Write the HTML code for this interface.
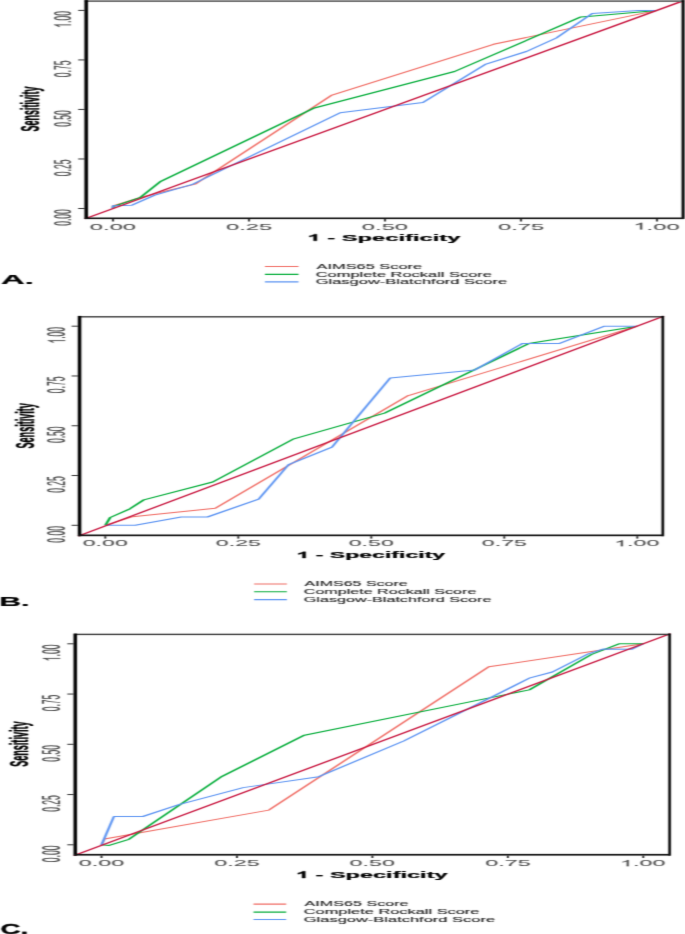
<!DOCTYPE html>
<html><head><meta charset="utf-8"><style>
html,body{margin:0;padding:0;background:#fff;}
svg{display:block;}
text{font-family:"Liberation Sans",sans-serif;font-size:100px;}
</style></head><body>
<svg width="685" height="934" viewBox="0 0 685 934">
<defs><filter id="bl" x="0" y="0" width="685" height="934" filterUnits="userSpaceOnUse" color-interpolation-filters="sRGB"><feConvolveMatrix order="5 3" kernelMatrix="0.0024 0.0176 0.0400 0.0176 0.0024 0.0252 0.1848 0.4200 0.1848 0.0252 0.0024 0.0176 0.0400 0.0176 0.0024" divisor="1" edgeMode="none"/></filter></defs>
<rect width="685" height="934" fill="#fff"/>
<g filter="url(#bl)">
<polyline transform="scale(1,0.4000)" points="113,521.25 113,515 139.9,494.25 160,481.25 195.1,460.5 332,237.75 493.5,110.75 657,26" fill="none" stroke="#F06C64" stroke-width="2.4" stroke-linejoin="round" stroke-linecap="butt"/>
<polyline transform="scale(1,0.4000)" points="113,521.25 113,516.5 139.9,494.25 160.8,453.25 313.4,270.75 454.5,178.75 580.3,42.75 587.7,41.25 657,26" fill="none" stroke="#05AD3A" stroke-width="2.6" stroke-linejoin="round" stroke-linecap="butt"/>
<polyline transform="scale(1,0.4000)" points="113,521.25 113,514.25 132,513 154.8,488 191.6,461.75 340.2,281.75 422.9,256.5 486,160.25 526.4,128.75 556.3,95 592.2,33.75 638.6,26.25 657,26" fill="none" stroke="#5B93F2" stroke-width="2.5" stroke-linejoin="round" stroke-linecap="butt"/>
<polyline transform="scale(1,0.4000)" points="84.7,547.25 684,1.25" fill="none" stroke="#C8163F" stroke-width="2.7" stroke-linejoin="round" stroke-linecap="butt"/>
<rect x="84.7" y="0" width="599.3" height="1" fill="#8e8e8e"/>
<rect x="84.7" y="1" width="599.3" height="1" fill="#6a6a6a"/>
<rect x="681.6" y="0" width="3" height="218.9" fill="#000"/>
<rect x="84.4" y="0" width="3.6" height="218.9" fill="#000"/>
<rect x="84.7" y="217.5" width="599.3" height="1.6" fill="#111"/>
<line x1="78.2" y1="208.5" x2="84.4" y2="208.5" stroke="#333333" stroke-width="1"/>
<line x1="113" y1="219.1" x2="113" y2="221.5" stroke="#1a1a1a" stroke-width="1.8"/>
<text transform="translate(89.8,229.5) scale(0.2380,0.0986)" font-weight="normal" fill="#4D4D4D" stroke="#4D4D4D" stroke-width="0.15" vector-effect="non-scaling-stroke">0.00</text>
<text transform="translate(71,225.83) rotate(-90) scale(0.0855,0.2471)" font-weight="normal" fill="#4D4D4D" stroke="#4D4D4D" stroke-width="0.15" vector-effect="non-scaling-stroke">0.00</text>
<line x1="78.2" y1="158.97" x2="84.4" y2="158.97" stroke="#333333" stroke-width="1"/>
<line x1="249" y1="219.1" x2="249" y2="221.5" stroke="#1a1a1a" stroke-width="1.8"/>
<text transform="translate(225.91,229.5) scale(0.2380,0.0986)" font-weight="normal" fill="#4D4D4D" stroke="#4D4D4D" stroke-width="0.15" vector-effect="non-scaling-stroke">0.25</text>
<text transform="translate(71,176.22) rotate(-90) scale(0.0855,0.2471)" font-weight="normal" fill="#4D4D4D" stroke="#4D4D4D" stroke-width="0.15" vector-effect="non-scaling-stroke">0.25</text>
<line x1="78.2" y1="109.45" x2="84.4" y2="109.45" stroke="#333333" stroke-width="1"/>
<line x1="385" y1="219.1" x2="385" y2="221.5" stroke="#1a1a1a" stroke-width="1.8"/>
<text transform="translate(361.8,229.5) scale(0.2380,0.0986)" font-weight="normal" fill="#4D4D4D" stroke="#4D4D4D" stroke-width="0.15" vector-effect="non-scaling-stroke">0.50</text>
<text transform="translate(71,126.78) rotate(-90) scale(0.0855,0.2471)" font-weight="normal" fill="#4D4D4D" stroke="#4D4D4D" stroke-width="0.15" vector-effect="non-scaling-stroke">0.50</text>
<line x1="78.2" y1="59.93" x2="84.4" y2="59.93" stroke="#333333" stroke-width="1"/>
<line x1="521" y1="219.1" x2="521" y2="221.5" stroke="#1a1a1a" stroke-width="1.8"/>
<text transform="translate(497.91,229.5) scale(0.2380,0.0986)" font-weight="normal" fill="#4D4D4D" stroke="#4D4D4D" stroke-width="0.15" vector-effect="non-scaling-stroke">0.75</text>
<text transform="translate(71,77.17) rotate(-90) scale(0.0855,0.2471)" font-weight="normal" fill="#4D4D4D" stroke="#4D4D4D" stroke-width="0.15" vector-effect="non-scaling-stroke">0.75</text>
<line x1="78.2" y1="10.4" x2="84.4" y2="10.4" stroke="#333333" stroke-width="1"/>
<line x1="657" y1="219.1" x2="657" y2="221.5" stroke="#1a1a1a" stroke-width="1.8"/>
<g transform="translate(633.32,229.5) scale(0.2380,0.0986)"><path d="M37.26,0.00L28.47,0.00L28.47,-53.61Q25.29,-50.71 20.12,-47.81Q14.94,-44.92 10.79,-43.47L10.79,-51.60Q18.16,-54.92 23.68,-59.64Q29.20,-64.36 31.49,-68.80L37.26,-68.80Z" fill="#4D4D4D" stroke="#4D4D4D" stroke-width="0.15" vector-effect="non-scaling-stroke"/><text x="55.62" font-weight="normal" fill="#4D4D4D" stroke="#4D4D4D" stroke-width="0.15" vector-effect="non-scaling-stroke" xml:space="preserve">.00</text></g>
<g transform="translate(71,27.73) rotate(-90) scale(0.0855,0.2471)"><path d="M37.26,0.00L28.47,0.00L28.47,-53.61Q25.29,-50.71 20.12,-47.81Q14.94,-44.92 10.79,-43.47L10.79,-51.60Q18.16,-54.92 23.68,-59.64Q29.20,-64.36 31.49,-68.80L37.26,-68.80Z" fill="#4D4D4D" stroke="#4D4D4D" stroke-width="0.15" vector-effect="non-scaling-stroke"/><text x="55.62" font-weight="normal" fill="#4D4D4D" stroke="#4D4D4D" stroke-width="0.15" vector-effect="non-scaling-stroke" xml:space="preserve">.00</text></g>
<g transform="translate(307.38,240.8) scale(0.2375,0.0957)"><path d="M39.94,0.00L26.22,0.00L26.22,-49.70Q18.70,-42.94 8.50,-39.70L8.50,-51.67Q13.87,-53.36 20.17,-58.05Q26.46,-62.74 28.81,-68.80L39.94,-68.80Z" fill="#000" stroke="#000" stroke-width="0.4" vector-effect="non-scaling-stroke"/><text x="55.62" font-weight="bold" fill="#000" stroke="#000" stroke-width="0.4" vector-effect="non-scaling-stroke" xml:space="preserve"> - Specificity</text></g>
<text transform="translate(38.8,131.47) rotate(-90) scale(0.0897,0.2557)" font-weight="bold" fill="#000" stroke="#000" stroke-width="0.4" vector-effect="non-scaling-stroke">Sensitivity</text>
<text transform="translate(1.02,284.2) scale(0.3278,0.1333)" font-weight="bold" fill="#000" stroke="#000" stroke-width="0.4" vector-effect="non-scaling-stroke">A.</text>
<line x1="264.9" y1="266.5" x2="298.5" y2="266.5" stroke="#F06C64" stroke-width="1.2"/>
<text transform="translate(316.5,268.7) scale(0.1639,0.0710)" font-weight="normal" fill="#1e1e1e" stroke="#1e1e1e" stroke-width="0.2" vector-effect="non-scaling-stroke">AIMS65 Score</text>
<line x1="264.9" y1="274.35" x2="298.5" y2="274.35" stroke="#05AD3A" stroke-width="1.2"/>
<text transform="translate(315.68,276.6) scale(0.1646,0.0710)" font-weight="normal" fill="#1e1e1e" stroke="#1e1e1e" stroke-width="0.2" vector-effect="non-scaling-stroke">Complete Rockall Score</text>
<line x1="264.9" y1="281.9" x2="298.5" y2="281.9" stroke="#5B93F2" stroke-width="1.2"/>
<text transform="translate(315.67,284) scale(0.1651,0.0710)" font-weight="normal" fill="#1e1e1e" stroke="#1e1e1e" stroke-width="0.2" vector-effect="non-scaling-stroke">Glasgow-Blatchford Score</text>
<polyline transform="scale(1,0.4000)" points="105.3,1313.25 132.5,1291.75 215.3,1270.75 408.2,988.75 409.2,988.5 637.3,815.5" fill="none" stroke="#F06C64" stroke-width="2.4" stroke-linejoin="round" stroke-linecap="butt"/>
<polyline transform="scale(1,0.4000)" points="105.3,1313.25 110.2,1293.75 129.9,1272 143.8,1249.75 212.7,1205 293.9,1097 384.5,1032.75 528.7,859 637.3,815.5" fill="none" stroke="#05AD3A" stroke-width="2.6" stroke-linejoin="round" stroke-linecap="butt"/>
<polyline transform="scale(1,0.4000)" points="105.3,1313.25 135.2,1313.25 181.2,1292.5 207.4,1292.5 258.7,1247.75 288.6,1161.5 332,1118 390.3,944.75 474.9,924.75 522.2,859 559,859 604.5,815.5 637.3,815.5" fill="none" stroke="#5B93F2" stroke-width="2.5" stroke-linejoin="round" stroke-linecap="butt"/>
<polyline transform="scale(1,0.4000)" points="78.2,1340.5 663.8,790.5" fill="none" stroke="#C8163F" stroke-width="2.7" stroke-linejoin="round" stroke-linecap="butt"/>
<rect x="78.2" y="316.1" width="585.6" height="1.4" fill="#3a3a3a"/>
<rect x="661.5" y="315.9" width="2.6" height="220.3" fill="#000"/>
<rect x="77.8" y="315.9" width="3.5" height="220.3" fill="#000"/>
<rect x="78.2" y="534.5" width="585.6" height="1.7" fill="#111"/>
<line x1="71.6" y1="525.3" x2="77.8" y2="525.3" stroke="#333333" stroke-width="1"/>
<line x1="105.3" y1="536.2" x2="105.3" y2="538.6" stroke="#1a1a1a" stroke-width="1.8"/>
<text transform="translate(82.68,546.3) scale(0.2320,0.0871)" font-weight="normal" fill="#4D4D4D" stroke="#4D4D4D" stroke-width="0.15" vector-effect="non-scaling-stroke">0.00</text>
<text transform="translate(65.2,542.63) rotate(-90) scale(0.0855,0.2529)" font-weight="normal" fill="#4D4D4D" stroke="#4D4D4D" stroke-width="0.15" vector-effect="non-scaling-stroke">0.00</text>
<line x1="71.6" y1="475.52" x2="77.8" y2="475.52" stroke="#333333" stroke-width="1"/>
<line x1="238.3" y1="536.2" x2="238.3" y2="538.6" stroke="#1a1a1a" stroke-width="1.8"/>
<text transform="translate(215.8,546.3) scale(0.2320,0.0871)" font-weight="normal" fill="#4D4D4D" stroke="#4D4D4D" stroke-width="0.15" vector-effect="non-scaling-stroke">0.25</text>
<text transform="translate(65.2,492.77) rotate(-90) scale(0.0855,0.2529)" font-weight="normal" fill="#4D4D4D" stroke="#4D4D4D" stroke-width="0.15" vector-effect="non-scaling-stroke">0.25</text>
<line x1="71.6" y1="425.75" x2="77.8" y2="425.75" stroke="#333333" stroke-width="1"/>
<line x1="371.3" y1="536.2" x2="371.3" y2="538.6" stroke="#1a1a1a" stroke-width="1.8"/>
<text transform="translate(348.68,546.3) scale(0.2320,0.0871)" font-weight="normal" fill="#4D4D4D" stroke="#4D4D4D" stroke-width="0.15" vector-effect="non-scaling-stroke">0.50</text>
<text transform="translate(65.2,443.08) rotate(-90) scale(0.0855,0.2529)" font-weight="normal" fill="#4D4D4D" stroke="#4D4D4D" stroke-width="0.15" vector-effect="non-scaling-stroke">0.50</text>
<line x1="71.6" y1="375.97" x2="77.8" y2="375.97" stroke="#333333" stroke-width="1"/>
<line x1="504.3" y1="536.2" x2="504.3" y2="538.6" stroke="#1a1a1a" stroke-width="1.8"/>
<text transform="translate(481.8,546.3) scale(0.2320,0.0871)" font-weight="normal" fill="#4D4D4D" stroke="#4D4D4D" stroke-width="0.15" vector-effect="non-scaling-stroke">0.75</text>
<text transform="translate(65.2,393.22) rotate(-90) scale(0.0855,0.2529)" font-weight="normal" fill="#4D4D4D" stroke="#4D4D4D" stroke-width="0.15" vector-effect="non-scaling-stroke">0.75</text>
<line x1="71.6" y1="326.2" x2="77.8" y2="326.2" stroke="#333333" stroke-width="1"/>
<line x1="637.3" y1="536.2" x2="637.3" y2="538.6" stroke="#1a1a1a" stroke-width="1.8"/>
<g transform="translate(614.22,546.3) scale(0.2320,0.0871)"><path d="M37.26,0.00L28.47,0.00L28.47,-53.61Q25.29,-50.71 20.12,-47.81Q14.94,-44.92 10.79,-43.47L10.79,-51.60Q18.16,-54.92 23.68,-59.64Q29.20,-64.36 31.49,-68.80L37.26,-68.80Z" fill="#4D4D4D" stroke="#4D4D4D" stroke-width="0.15" vector-effect="non-scaling-stroke"/><text x="55.62" font-weight="normal" fill="#4D4D4D" stroke="#4D4D4D" stroke-width="0.15" vector-effect="non-scaling-stroke" xml:space="preserve">.00</text></g>
<g transform="translate(65.2,343.53) rotate(-90) scale(0.0855,0.2529)"><path d="M37.26,0.00L28.47,0.00L28.47,-53.61Q25.29,-50.71 20.12,-47.81Q14.94,-44.92 10.79,-43.47L10.79,-51.60Q18.16,-54.92 23.68,-59.64Q29.20,-64.36 31.49,-68.80L37.26,-68.80Z" fill="#4D4D4D" stroke="#4D4D4D" stroke-width="0.15" vector-effect="non-scaling-stroke"/><text x="55.62" font-weight="normal" fill="#4D4D4D" stroke="#4D4D4D" stroke-width="0.15" vector-effect="non-scaling-stroke" xml:space="preserve">.00</text></g>
<g transform="translate(296.41,558) scale(0.2309,0.0899)"><path d="M39.94,0.00L26.22,0.00L26.22,-49.70Q18.70,-42.94 8.50,-39.70L8.50,-51.67Q13.87,-53.36 20.17,-58.05Q26.46,-62.74 28.81,-68.80L39.94,-68.80Z" fill="#000" stroke="#000" stroke-width="0.4" vector-effect="non-scaling-stroke"/><text x="55.62" font-weight="bold" fill="#000" stroke="#000" stroke-width="0.4" vector-effect="non-scaling-stroke" xml:space="preserve"> - Specificity</text></g>
<text transform="translate(33.6,448.47) rotate(-90) scale(0.0907,0.2600)" font-weight="bold" fill="#000" stroke="#000" stroke-width="0.4" vector-effect="non-scaling-stroke">Sensitivity</text>
<text transform="translate(-0.71,605.8) scale(0.3012,0.1261)" font-weight="bold" fill="#000" stroke="#000" stroke-width="0.4" vector-effect="non-scaling-stroke">B.</text>
<line x1="254.1" y1="584" x2="286.9" y2="584" stroke="#F06C64" stroke-width="1.2"/>
<text transform="translate(304.6,586.4) scale(0.1600,0.0667)" font-weight="normal" fill="#1e1e1e" stroke="#1e1e1e" stroke-width="0.2" vector-effect="non-scaling-stroke">AIMS65 Score</text>
<line x1="254.1" y1="591.75" x2="286.9" y2="591.75" stroke="#05AD3A" stroke-width="1.2"/>
<text transform="translate(303.8,594.2) scale(0.1610,0.0667)" font-weight="normal" fill="#1e1e1e" stroke="#1e1e1e" stroke-width="0.2" vector-effect="non-scaling-stroke">Complete Rockall Score</text>
<line x1="254.1" y1="599.6" x2="286.9" y2="599.6" stroke="#5B93F2" stroke-width="1.2"/>
<text transform="translate(303.79,601.9) scale(0.1616,0.0667)" font-weight="normal" fill="#1e1e1e" stroke="#1e1e1e" stroke-width="0.2" vector-effect="non-scaling-stroke">Glasgow-Blatchford Score</text>
<polyline transform="scale(1,0.4000)" points="101.5,2112 104.5,2097.5 268.9,2025.25 488.8,1667 643.3,1609.5" fill="none" stroke="#F06C64" stroke-width="2.4" stroke-linejoin="round" stroke-linecap="butt"/>
<polyline transform="scale(1,0.4000)" points="101.5,2112 109.2,2113.5 128.9,2098.25 222.1,1940.75 304.4,1838 529.3,1724.75 591.4,1636.25 619,1609.5 643.3,1609.5" fill="none" stroke="#05AD3A" stroke-width="2.6" stroke-linejoin="round" stroke-linecap="butt"/>
<polyline transform="scale(1,0.4000)" points="101.5,2112 113.9,2041.25 142.8,2041.25 178.8,2011.75 243.2,1969 318.8,1941.75 403.7,1852.5 530.1,1694.5 552.4,1680 588.4,1634.5 603.7,1622.25 632,1623 643.3,1609.5" fill="none" stroke="#5B93F2" stroke-width="2.5" stroke-linejoin="round" stroke-linecap="butt"/>
<polyline transform="scale(1,0.4000)" points="73.9,2139 670.5,1584" fill="none" stroke="#C8163F" stroke-width="2.7" stroke-linejoin="round" stroke-linecap="butt"/>
<rect x="73.9" y="633.7" width="596.6" height="1.4" fill="#3a3a3a"/>
<rect x="668.3" y="633.6" width="2.6" height="222" fill="#000"/>
<rect x="73.5" y="633.6" width="3.5" height="222" fill="#000"/>
<rect x="73.9" y="853.9" width="596.6" height="1.7" fill="#111"/>
<line x1="67.3" y1="844.8" x2="73.5" y2="844.8" stroke="#333333" stroke-width="1"/>
<line x1="101.5" y1="855.6" x2="101.5" y2="858" stroke="#1a1a1a" stroke-width="1.8"/>
<text transform="translate(78.68,866.3) scale(0.2340,0.0900)" font-weight="normal" fill="#4D4D4D" stroke="#4D4D4D" stroke-width="0.15" vector-effect="non-scaling-stroke">0.00</text>
<text transform="translate(60.2,862.13) rotate(-90) scale(0.0855,0.2529)" font-weight="normal" fill="#4D4D4D" stroke="#4D4D4D" stroke-width="0.15" vector-effect="non-scaling-stroke">0.00</text>
<line x1="67.3" y1="794.55" x2="73.5" y2="794.55" stroke="#333333" stroke-width="1"/>
<line x1="236.95" y1="855.6" x2="236.95" y2="858" stroke="#1a1a1a" stroke-width="1.8"/>
<text transform="translate(214.25,866.3) scale(0.2340,0.0900)" font-weight="normal" fill="#4D4D4D" stroke="#4D4D4D" stroke-width="0.15" vector-effect="non-scaling-stroke">0.25</text>
<text transform="translate(60.2,811.79) rotate(-90) scale(0.0855,0.2529)" font-weight="normal" fill="#4D4D4D" stroke="#4D4D4D" stroke-width="0.15" vector-effect="non-scaling-stroke">0.25</text>
<line x1="67.3" y1="744.3" x2="73.5" y2="744.3" stroke="#333333" stroke-width="1"/>
<line x1="372.4" y1="855.6" x2="372.4" y2="858" stroke="#1a1a1a" stroke-width="1.8"/>
<text transform="translate(349.58,866.3) scale(0.2340,0.0900)" font-weight="normal" fill="#4D4D4D" stroke="#4D4D4D" stroke-width="0.15" vector-effect="non-scaling-stroke">0.50</text>
<text transform="translate(60.2,761.63) rotate(-90) scale(0.0855,0.2529)" font-weight="normal" fill="#4D4D4D" stroke="#4D4D4D" stroke-width="0.15" vector-effect="non-scaling-stroke">0.50</text>
<line x1="67.3" y1="694.05" x2="73.5" y2="694.05" stroke="#333333" stroke-width="1"/>
<line x1="507.85" y1="855.6" x2="507.85" y2="858" stroke="#1a1a1a" stroke-width="1.8"/>
<text transform="translate(485.15,866.3) scale(0.2340,0.0900)" font-weight="normal" fill="#4D4D4D" stroke="#4D4D4D" stroke-width="0.15" vector-effect="non-scaling-stroke">0.75</text>
<text transform="translate(60.2,711.29) rotate(-90) scale(0.0855,0.2529)" font-weight="normal" fill="#4D4D4D" stroke="#4D4D4D" stroke-width="0.15" vector-effect="non-scaling-stroke">0.75</text>
<line x1="67.3" y1="643.8" x2="73.5" y2="643.8" stroke="#333333" stroke-width="1"/>
<line x1="643.3" y1="855.6" x2="643.3" y2="858" stroke="#1a1a1a" stroke-width="1.8"/>
<g transform="translate(620.02,866.3) scale(0.2340,0.0900)"><path d="M37.26,0.00L28.47,0.00L28.47,-53.61Q25.29,-50.71 20.12,-47.81Q14.94,-44.92 10.79,-43.47L10.79,-51.60Q18.16,-54.92 23.68,-59.64Q29.20,-64.36 31.49,-68.80L37.26,-68.80Z" fill="#4D4D4D" stroke="#4D4D4D" stroke-width="0.15" vector-effect="non-scaling-stroke"/><text x="55.62" font-weight="normal" fill="#4D4D4D" stroke="#4D4D4D" stroke-width="0.15" vector-effect="non-scaling-stroke" xml:space="preserve">.00</text></g>
<g transform="translate(60.2,661.13) rotate(-90) scale(0.0855,0.2529)"><path d="M37.26,0.00L28.47,0.00L28.47,-53.61Q25.29,-50.71 20.12,-47.81Q14.94,-44.92 10.79,-43.47L10.79,-51.60Q18.16,-54.92 23.68,-59.64Q29.20,-64.36 31.49,-68.80L37.26,-68.80Z" fill="#4D4D4D" stroke="#4D4D4D" stroke-width="0.15" vector-effect="non-scaling-stroke"/><text x="55.62" font-weight="normal" fill="#4D4D4D" stroke="#4D4D4D" stroke-width="0.15" vector-effect="non-scaling-stroke" xml:space="preserve">.00</text></g>
<g transform="translate(295.89,878) scale(0.2354,0.0971)"><path d="M39.94,0.00L26.22,0.00L26.22,-49.70Q18.70,-42.94 8.50,-39.70L8.50,-51.67Q13.87,-53.36 20.17,-58.05Q26.46,-62.74 28.81,-68.80L39.94,-68.80Z" fill="#000" stroke="#000" stroke-width="0.4" vector-effect="non-scaling-stroke"/><text x="55.62" font-weight="bold" fill="#000" stroke="#000" stroke-width="0.4" vector-effect="non-scaling-stroke" xml:space="preserve"> - Specificity</text></g>
<text transform="translate(28.1,766.87) rotate(-90) scale(0.0909,0.2600)" font-weight="bold" fill="#000" stroke="#000" stroke-width="0.4" vector-effect="non-scaling-stroke">Sensitivity</text>
<text transform="translate(0.39,934.2) scale(0.2775,0.1435)" font-weight="bold" fill="#000" stroke="#000" stroke-width="0.4" vector-effect="non-scaling-stroke">C.</text>
<line x1="253.5" y1="904.2" x2="286.2" y2="904.2" stroke="#F06C64" stroke-width="1.2"/>
<text transform="translate(304.6,906.4) scale(0.1614,0.0696)" font-weight="normal" fill="#1e1e1e" stroke="#1e1e1e" stroke-width="0.2" vector-effect="non-scaling-stroke">AIMS65 Score</text>
<line x1="253.5" y1="912.1" x2="286.2" y2="912.1" stroke="#05AD3A" stroke-width="1.2"/>
<text transform="translate(303.78,914.2) scale(0.1639,0.0696)" font-weight="normal" fill="#1e1e1e" stroke="#1e1e1e" stroke-width="0.2" vector-effect="non-scaling-stroke">Complete Rockall Score</text>
<line x1="253.5" y1="919.5" x2="286.2" y2="919.5" stroke="#5B93F2" stroke-width="1.2"/>
<text transform="translate(303.78,921.6) scale(0.1649,0.0696)" font-weight="normal" fill="#1e1e1e" stroke="#1e1e1e" stroke-width="0.2" vector-effect="non-scaling-stroke">Glasgow-Blatchford Score</text>
</g>
</svg>
</body></html>
